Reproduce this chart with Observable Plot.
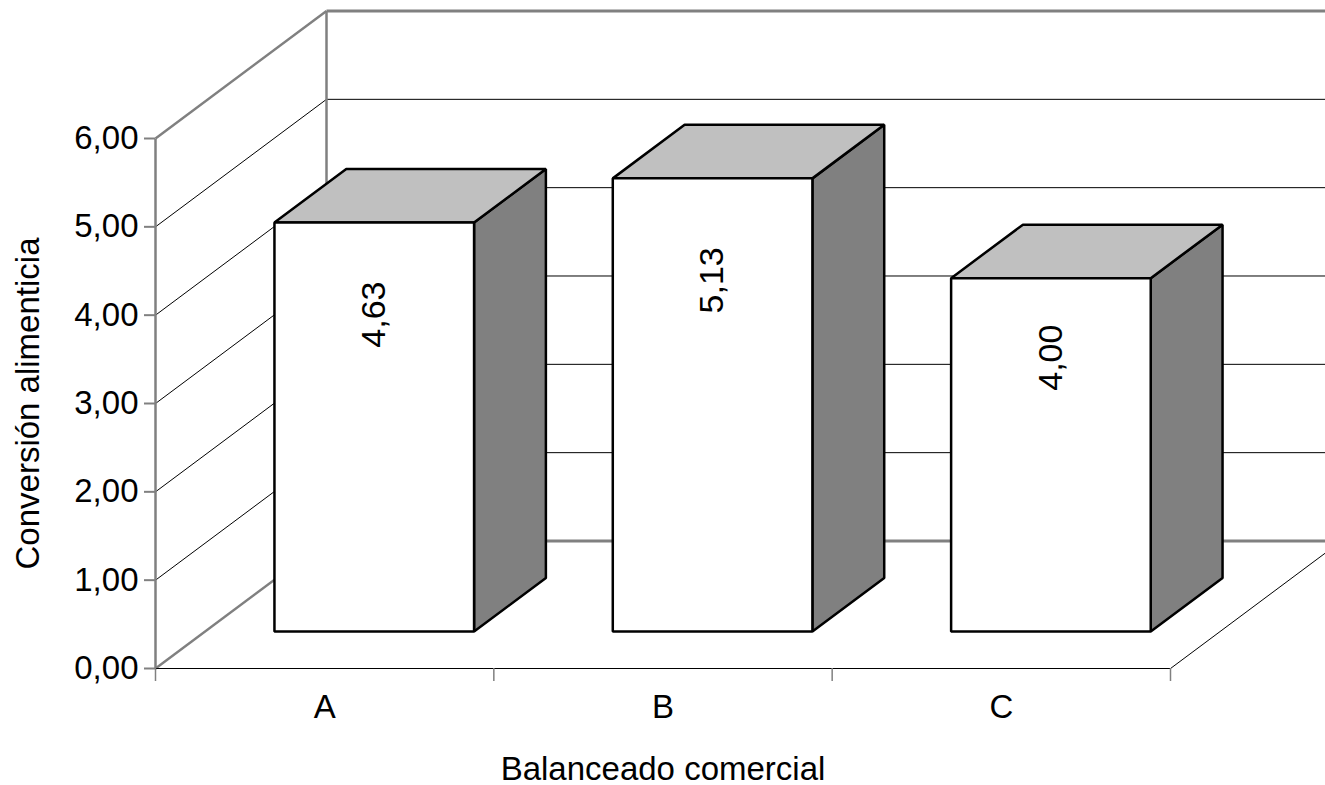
<!DOCTYPE html>
<html><head><meta charset="utf-8">
<script src="https://cdn.jsdelivr.net/npm/d3@7"></script>
<script src="https://cdn.jsdelivr.net/npm/@observablehq/plot@0.6"></script>
<style>html,body{margin:0;padding:0;background:#fff;overflow:hidden}</style>
</head><body><div id="chart"></div>
<script>
// ---- data ----
const categories = ["A", "B", "C"];
const values = [4.63, 5.13, 4.00];
const yTicks = [0, 1, 2, 3, 4, 5, 6];
const yTitle = "Conversión alimenticia";
const xTitle = "Balanceado comercial";

// ---- pseudo-3D projection (depth expressed in data units) ----
const DX = 171 / 338.33, DY = 127.5 / 88.33;
const D1 = 0.29, D2 = 0.71, HW = 0.295;
const P = (u, v, d) => ({x: u + d * DX, y: v + d * DY});
const nCat = categories.length;

const seg = (a, b) => ({x1: a.x, y1: a.y, x2: b.x, y2: b.y});
const innerTicks = yTicks.slice(1, -1);
const edgeTicks = [yTicks[0], yTicks[yTicks.length - 1]];

const leftInner = innerTicks.map(v => seg(P(0, v, 0), P(0, v, 1)));
const leftEdges = edgeTicks.map(v => seg(P(0, v, 0), P(0, v, 1)));
const backInner = innerTicks.map(v => seg(P(0, v, 1), P(nCat, v, 1)));
const backEdges = edgeTicks.map(v => seg(P(0, v, 1), P(nCat, v, 1)));
const verticals = [seg(P(0, 0, 0), P(0, 6, 0)), seg(P(0, 0, 1), P(0, 6, 1))];
const floorLines = [seg(P(0, 0, 0), P(nCat, 0, 0)), seg(P(nCat, 0, 0), P(nCat, 0, 1))];

const fronts = [], tops = [], sides = [];
values.forEach((v, i) => {
  const c = i + 0.5;
  [[c - HW, 0, D1], [c + HW, 0, D1], [c + HW, v, D1], [c - HW, v, D1]]
    .forEach(p => fronts.push({id: i, ...P(...p)}));
  [[c - HW, v, D1], [c + HW, v, D1], [c + HW, v, D2], [c - HW, v, D2]]
    .forEach(p => tops.push({id: i, ...P(...p)}));
  [[c + HW, 0, D1], [c + HW, 0, D2], [c + HW, v, D2], [c + HW, v, D1]]
    .forEach(p => sides.push({id: i, ...P(...p)}));
});
const labels = values.map((v, i) => ({...P(i + 0.5, v * 0.775, D1), text: v.toFixed(2).replace(".", ",")}));
const catLabels = categories.map((c, i) => ({x: i + 0.5, y: 0, text: c}));

const font = "'Liberation Sans', Arial, Helvetica, sans-serif";
const grey = "#808080";
const poly = (data, fill) => Plot.line(data, {x: "x", y: "y", z: "id", curve: "linear-closed",
  fill, stroke: "black", strokeWidth: 2.5, strokeLinejoin: "miter"});
const link = (data, stroke, strokeWidth) => Plot.link(data, {x1: "x1", y1: "y1", x2: "x2", y2: "y2", stroke, strokeWidth});

const chart = Plot.plot({
  width: 1325, height: 785,
  marginLeft: 155, marginRight: 155, marginTop: 138, marginBottom: 117,
  x: {domain: [0, nCat]},
  y: {domain: [0, 6]},
  style: {fontFamily: font, background: "white", overflow: "visible"},
  marks: [
    link(leftInner, "black", 1),
    link(backInner, "black", 1),
    link(leftEdges, grey, 2.5),
    link(backEdges, grey, 3),
    link(verticals, grey, 2.5),
    link(floorLines, "black", 1),
    Plot.axisY({ticks: yTicks, tickSize: 11, tickPadding: 6, stroke: grey, strokeWidth: 2,
      fontSize: 33, fill: "black", tickFormat: d => d.toFixed(2).replace(".", ",")}),
    Plot.axisX({ticks: d3.range(nCat + 1), tickSize: 13, stroke: grey, strokeWidth: 1.5,
      tickFormat: () => ""}),
    Plot.text(catLabels, {x: "x", y: "y", text: "text", dy: 39, fontSize: 33, fill: "black", lineAnchor: "middle"}),
    poly(sides, grey),
    poly(tops, "#c0c0c0"),
    poly(fronts, "white"),
    Plot.text(labels, {x: "x", y: "y", text: "text", rotate: -90, fontSize: 34, fill: "black",
      textAnchor: "middle", lineAnchor: "middle"}),
    Plot.text([yTitle], {frameAnchor: "left", dx: -127, rotate: -90, fontSize: 33, fill: "black",
      textAnchor: "middle", lineAnchor: "middle"}),
    Plot.text([xTitle], {frameAnchor: "bottom", dy: 101, fontSize: 33, fill: "black",
      textAnchor: "middle", lineAnchor: "middle"})
  ]
});
document.getElementById("chart").appendChild(chart);
</script>
</body></html>
